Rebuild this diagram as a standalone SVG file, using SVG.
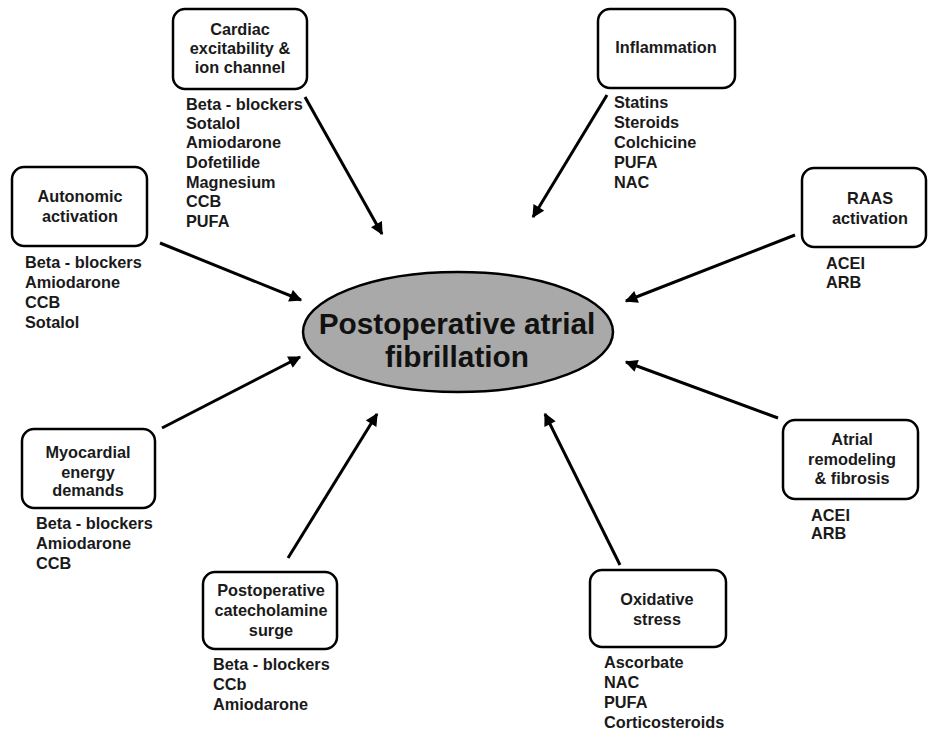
<svg xmlns="http://www.w3.org/2000/svg" width="929" height="733" viewBox="0 0 929 733">
<style>
.box{fill:#fff;stroke:#000;stroke-width:2.5}
.t{font-family:"Liberation Sans",Arial,sans-serif;font-weight:bold;font-size:16.3px;fill:#1a1a1a}
.c{text-anchor:middle}
.edge{stroke:#000;stroke-width:3;fill:none;marker-end:url(#ah)}
</style>
<defs>
<marker id="ah" viewBox="0 0 10 10" refX="9" refY="5" markerWidth="4.8" markerHeight="4.2" orient="auto" markerUnits="strokeWidth">
<path d="M0,0 L10,5 L0,10 z" fill="#000"/>
</marker>
</defs>
<rect width="929" height="733" fill="#fff"/>
<g id="connectors">
<line class="edge" x1="305" y1="97" x2="382" y2="234"/>
<line class="edge" x1="607" y1="95" x2="533" y2="217"/>
<line class="edge" x1="160" y1="243" x2="301" y2="300"/>
<line class="edge" x1="795" y1="235" x2="626" y2="301"/>
<line class="edge" x1="162" y1="428" x2="300" y2="357"/>
<line class="edge" x1="778" y1="418" x2="626" y2="362"/>
<line class="edge" x1="288" y1="558" x2="377" y2="414"/>
<line class="edge" x1="620" y1="565" x2="545" y2="414"/>
</g>
<g id="center">
<ellipse cx="458" cy="332" rx="155" ry="60" fill="#a9a9a9" stroke="#000" stroke-width="2.5"/>
<text class="t c" x="457" y="334" style="font-size:29.8px;fill:#111">Postoperative atrial</text>
<text class="t c" x="457" y="367" style="font-size:29.8px;fill:#111">fibrillation</text>
</g>
<g id="cardiac">
<rect class="box" x="173" y="9" width="134" height="80" rx="12"/>
<text class="t c" x="240" y="35">Cardiac</text>
<text class="t c" x="240" y="54">excitability &amp;</text>
<text class="t c" x="240" y="73">ion channel</text>
<text class="t" x="186" y="110">Beta - blockers</text>
<text class="t" x="186" y="129">Sotalol</text>
<text class="t" x="186" y="148">Amiodarone</text>
<text class="t" x="186" y="168">Dofetilide</text>
<text class="t" x="186" y="188">Magnesium</text>
<text class="t" x="186" y="207">CCB</text>
<text class="t" x="186" y="227">PUFA</text>
</g>
<g id="inflammation">
<rect class="box" x="598" y="9" width="137" height="79" rx="12"/>
<text class="t c" x="666" y="53">Inflammation</text>
<text class="t" x="614" y="108">Statins</text>
<text class="t" x="614" y="128">Steroids</text>
<text class="t" x="614" y="148">Colchicine</text>
<text class="t" x="614" y="168">PUFA</text>
<text class="t" x="614" y="188">NAC</text>
</g>
<g id="autonomic">
<rect class="box" x="12" y="167" width="135" height="79" rx="12"/>
<text class="t c" x="80" y="202">Autonomic</text>
<text class="t c" x="80" y="222">activation</text>
<text class="t" x="25" y="268">Beta - blockers</text>
<text class="t" x="25" y="288">Amiodarone</text>
<text class="t" x="25" y="308">CCB</text>
<text class="t" x="25" y="328">Sotalol</text>
</g>
<g id="raas">
<rect class="box" x="802" y="168" width="124" height="79" rx="12"/>
<text class="t c" x="870" y="204">RAAS</text>
<text class="t c" x="870" y="224">activation</text>
<text class="t" x="826" y="269">ACEI</text>
<text class="t" x="826" y="288">ARB</text>
</g>
<g id="myocardial">
<rect class="box" x="22" y="429" width="133" height="79" rx="12"/>
<text class="t c" x="88" y="458">Myocardial</text>
<text class="t c" x="88" y="478">energy</text>
<text class="t c" x="88" y="496">demands</text>
<text class="t" x="36" y="529">Beta - blockers</text>
<text class="t" x="36" y="549">Amiodarone</text>
<text class="t" x="36" y="569">CCB</text>
</g>
<g id="atrial">
<rect class="box" x="783" y="420" width="135" height="79" rx="12"/>
<text class="t c" x="852" y="445">Atrial</text>
<text class="t c" x="852" y="465">remodeling</text>
<text class="t c" x="852" y="484">&amp; fibrosis</text>
<text class="t" x="811" y="521">ACEI</text>
<text class="t" x="811" y="539">ARB</text>
</g>
<g id="catecholamine">
<rect class="box" x="203" y="572" width="134" height="77" rx="12"/>
<text class="t c" x="271" y="596">Postoperative</text>
<text class="t c" x="271" y="616">catecholamine</text>
<text class="t c" x="271" y="636">surge</text>
<text class="t" x="213" y="670">Beta - blockers</text>
<text class="t" x="213" y="690">CCb</text>
<text class="t" x="213" y="710">Amiodarone</text>
</g>
<g id="oxidative">
<rect class="box" x="590" y="570" width="136" height="77" rx="12"/>
<text class="t c" x="657" y="605">Oxidative</text>
<text class="t c" x="657" y="625">stress</text>
<text class="t" x="604" y="668">Ascorbate</text>
<text class="t" x="604" y="688">NAC</text>
<text class="t" x="604" y="708">PUFA</text>
<text class="t" x="604" y="728">Corticosteroids</text>
</g>
</svg>
